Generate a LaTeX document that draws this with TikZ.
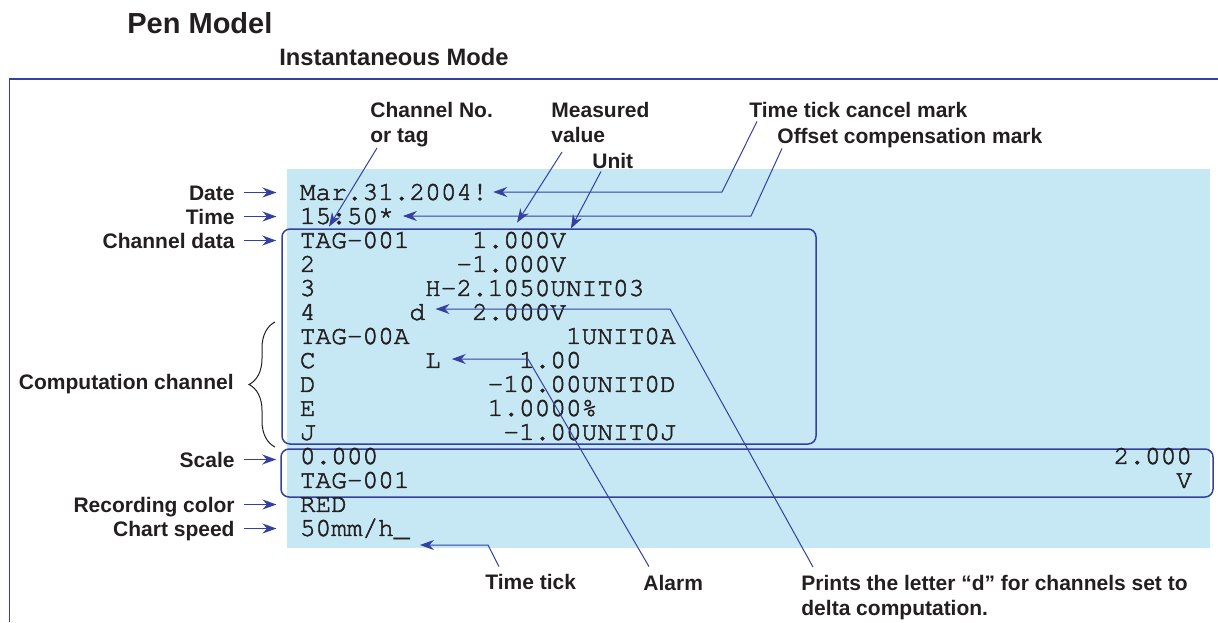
\documentclass[tikz,border=0pt]{standalone}
\usepackage{fontspec}
\setmainfont{Liberation Sans}
\newfontfamily\fontemono[FakeBold=2]{TeX Gyre Cursor}
\usetikzlibrary{arrows.meta, positioning, decorations.pathreplacing}
\definecolor{azul}{RGB}{52, 64, 160}
\definecolor{celeste}{RGB}{198, 232, 245}
\definecolor{tinta}{RGB}{35, 31, 32}
\tikzset{
  rotulo/.style={font=\fontsize{10.5}{12.5}\selectfont\bfseries, text=tinta, inner sep=0pt},
  rotuloL/.style={rotulo, text height=7.5pt, text depth=0pt},
  visor/.style={font=\fontemono\fontsize{13.05}{15}\selectfont, text=tinta, inner sep=0pt,
    anchor=west, text height=7.45pt, text depth=0pt},
  caixa/.style={draw=azul, line width=0.75pt, rounded corners=4pt, inner sep=0pt},
  seta/.style={-{Stealth[length=7pt, width=5pt]}, azul, line width=0.7pt},
  guia/.style={-{Stealth[length=7pt, width=5pt]}, azul, line width=0.5pt},
}

\begin{document}
\begin{tikzpicture}[x=0.5pt, y=-0.5pt]
  \useasboundingbox (0,0) rectangle (1218,622);

  % fundo e moldura
  \fill[celeste] (287,169) rectangle (1210,548);
  \draw[azul, line width=0.8pt] (9.5,622) -- (9.5,79) -- (1218,79);

  \node[anchor=base west, font=\fontsize{14.5}{17}\selectfont\bfseries, text=tinta, inner sep=0pt]
    (titulo) at (127,33) {Pen Model};
  \node[anchor=base west, font=\fontsize{11.85}{14}\selectfont\bfseries, text=tinta, inner sep=0pt]
    (modo) at (279,65.5) {Instantaneous Mode};

  \node[caixa, minimum width=267pt, minimum height=107.5pt] (canais) at (549,336.5) {};
  \node[caixa, minimum width=466pt, minimum height=24pt] (escala) at (747,473) {};

  % linhas impressas
  \node[visor] (data) at (299.5,192.5) {Mar.31.2004!};
  \node[visor] (hora) at (299.5,216.5) {15:50*};
  \node[visor] (tag1) at (299.5,240.5) {TAG-001};
  \node[visor] (v1) at (471.7,240.5) {1.000V};
  \node[visor] (c2) at (299.5,264.5) {2};
  \node[visor] (v2) at (456.0,264.5) {-1.000V};
  \node[visor] (c3) at (299.5,288.5) {3};
  \node[visor] (v3) at (424.7,288.5) {H-2.1050UNIT03};
  \node[visor] (c4) at (299.5,312.5) {4};
  \node[visor] (delta) at (409.1,312.5) {d};
  \node[visor] (v4) at (471.7,312.5) {2.000V};
  \node[visor] (tagA) at (299.5,336.5) {TAG-00A};
  \node[visor] (vA) at (565.6,336.5) {1UNIT0A};
  \node[visor] (cC) at (299.5,360.5) {C};
  \node[visor] (alarme) at (424.7,360.5) {L};
  \node[visor] (vC) at (518.6,360.5) {1.00};
  \node[visor] (cD) at (299.5,384.5) {D};
  \node[visor] (vD) at (487.3,384.5) {-10.00UNIT0D};
  \node[visor] (cE) at (299.5,408.5) {E};
  \node[visor] (vE) at (487.3,408.5) {1.0000\%};
  \node[visor] (cJ) at (299.5,432.5) {J};
  \node[visor] (vJ) at (503.0,432.5) {-1.00UNIT0J};
  \node[visor] (esc0) at (299.5,456.5) {0.000};
  \node[visor] (esc1) at (1113.3,456.5) {2.000};
  \node[visor] (tagE) at (299.5,480.5) {TAG-001};
  \node[visor] (unid) at (1175.9,480.5) {V};
  \node[visor] (cor) at (299.5,504.5) {RED};
  \node[visor] (vel) at (299.5,528.5) {50mm/h\_};

  % rotulos da esquerda
  \node[rotuloL, anchor=east] (lData) at (235,192.5) {Date};
  \node[rotuloL, anchor=east] (lHora) at (235,216.5) {Time};
  \node[rotuloL, anchor=east] (lCanal) at (235,240.5) {Channel data};
  \node[rotuloL, anchor=east] (lCalc) at (234,382) {Computation channel};
  \node[rotuloL, anchor=east] (lEscala) at (235,459.5) {Scale};
  \node[rotuloL, anchor=east] (lCor) at (235,504.5) {Recording color};
  \node[rotuloL, anchor=east] (lVel) at (235,528.5) {Chart speed};

  \draw[seta, shorten <=4.5pt, shorten >=11.5pt] (lData.east) -- (data.west);
  \draw[seta, shorten <=4.5pt, shorten >=11.5pt] (lHora.east) -- (hora.west);
  \draw[seta, shorten <=4.5pt, shorten >=2.5pt] (lCanal.east) -- (lCanal.east -| canais.west);
  \draw[seta, shorten <=4.5pt, shorten >=2pt] (lEscala.east) -- (lEscala.east -| escala.west);
  \draw[seta, shorten <=4.5pt, shorten >=11.5pt] (lCor.east) -- (cor.west);
  \draw[seta, shorten <=4.5pt, shorten >=11.5pt] (lVel.east) -- (vel.west);

  \draw[tinta, line width=0.5pt, decorate, decoration={brace, amplitude=13pt}]
    (275,447) -- (275,322);

  % rotulos de cima e de baixo
  \node[rotulo, anchor=north west, align=left] (lNum) at (370,102) {Channel No.\\or tag};
  \node[rotulo, anchor=north west, align=left] (lMedido) at (551,102) {Measured\\value};
  \node[rotuloL, anchor=west] (lUnid) at (592,161) {Unit};
  \node[rotuloL, anchor=west] (lCancel) at (749,110) {Time tick cancel mark};
  \node[rotuloL, anchor=west] (lOffset) at (777,136) {Offset compensation mark};
  \node[rotuloL, anchor=west] (lTick) at (485,582) {Time tick};
  \node[rotuloL, anchor=west] (lAlarme) at (643,583) {Alarm};
  \node[rotulo, anchor=north west, align=left] (lDelta) at (801,575)
    {Prints the letter “d” for channels set to\\delta computation.};

  \draw[guia] ([shift={(7,46)}]lNum.north west) -- ([shift={(29.5,-6)}]tag1.north west);
  \draw[guia] ([shift={(11,50)}]lMedido.north west) -- ([shift={(45.3,-10)}]v1.north west);
  \draw[guia] ([shift={(9,2.5)}]lUnid.south west) -- ([shift={(4.4,-4)}]v1.north east);
  \draw[guia] ([shift={(8,3.5)}]lCancel.south west) -- (722,192) -- ([shift={(5,-0.5)}]data.east);
  \draw[guia] ([shift={(5,4.5)}]lOffset.south west) -- (751,216) -- ([shift={(8.6,-0.5)}]hora.east);
  \draw[guia] ([shift={(12,-8)}]lDelta.north west) -- (670,309) -- ([shift={(10,-3.5)}]delta.east);
  \draw[guia] ([shift={(6,-8.5)}]lAlarme.north west) -- (528,359) -- ([shift={(10.6,-1.5)}]alarme.east);
  \draw[guia] ([shift={(14,-7.5)}]lTick.north west) -- (488,545) -- ([shift={(10,16.5)}]vel.east);
\end{tikzpicture}
\end{document}
